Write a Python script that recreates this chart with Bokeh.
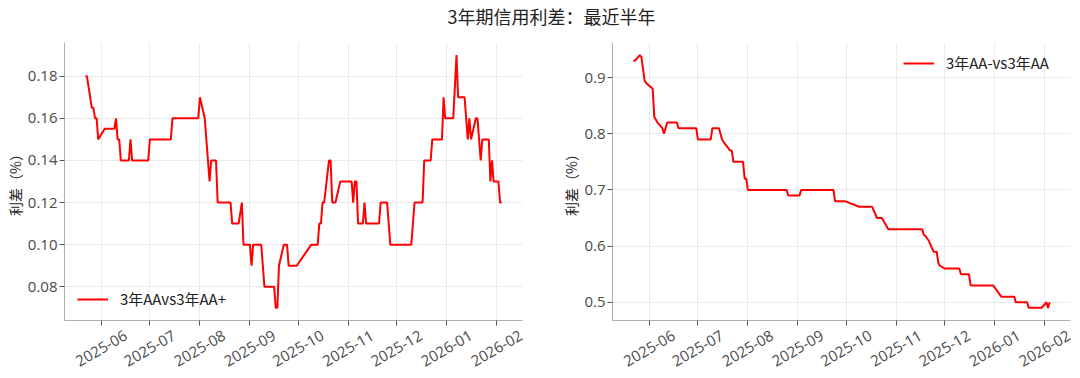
import pandas as pd
from bokeh.plotting import figure
from bokeh.models import (Range1d, FixedTicker, PrintfTickFormatter, DatetimeTickFormatter,
                          Legend, LegendItem, Label)
from bokeh.layouts import column, row
from bokeh.embed import file_html
from bokeh.resources import INLINE
import math

title_text = "3年期信用利差：最近半年"
ylabel_text = "利差（%）"
tick_months = ["2025-06", "2025-07", "2025-08", "2025-09", "2025-10",
               "2025-11", "2025-12", "2026-01", "2026-02"]

# Left: 3年AA vs 3年AA+
left_name = "3年AAvs3年AA+"
left_dates = ["2025-05-22", "2025-05-23", "2025-05-26", "2025-05-27", "2025-05-28", "2025-05-29",
              "2025-05-30", "2025-06-03", "2025-06-09", "2025-06-10", "2025-06-11", "2025-06-12",
              "2025-06-13", "2025-06-18", "2025-06-19", "2025-06-20", "2025-06-30", "2025-07-01",
              "2025-07-14", "2025-07-15", "2025-07-31", "2025-08-01", "2025-08-04", "2025-08-07",
              "2025-08-08", "2025-08-11", "2025-08-12", "2025-08-20", "2025-08-21", "2025-08-25",
              "2025-08-27", "2025-08-28", "2025-09-01", "2025-09-02", "2025-09-03", "2025-09-08",
              "2025-09-10", "2025-09-16", "2025-09-17", "2025-09-18", "2025-09-19", "2025-09-22",
              "2025-09-24", "2025-09-25", "2025-09-30", "2025-10-09", "2025-10-13", "2025-10-14",
              "2025-10-15", "2025-10-16", "2025-10-17", "2025-10-20", "2025-10-21", "2025-10-22",
              "2025-10-24", "2025-10-27", "2025-11-03", "2025-11-04", "2025-11-05", "2025-11-06",
              "2025-11-07", "2025-11-10", "2025-11-11", "2025-11-12", "2025-11-20", "2025-11-21",
              "2025-11-25", "2025-11-27", "2025-12-10", "2025-12-12", "2025-12-17", "2025-12-18",
              "2025-12-22", "2025-12-23", "2025-12-29", "2025-12-30", "2025-12-31", "2026-01-05",
              "2026-01-07", "2026-01-08", "2026-01-12", "2026-01-14", "2026-01-15", "2026-01-16",
              "2026-01-19", "2026-01-20", "2026-01-22", "2026-01-23", "2026-01-27", "2026-01-28",
              "2026-01-29", "2026-01-30", "2026-02-02", "2026-02-03", "2026-02-04"]
left_values = [0.18, 0.18, 0.165, 0.165, 0.16, 0.16,
               0.15, 0.155, 0.155, 0.16, 0.15, 0.15,
               0.14, 0.14, 0.15, 0.14, 0.14, 0.15,
               0.15, 0.16, 0.16, 0.17, 0.16, 0.13,
               0.14, 0.14, 0.12, 0.12, 0.11, 0.11,
               0.12, 0.10, 0.10, 0.09, 0.10, 0.10,
               0.08, 0.08, 0.07, 0.07, 0.09, 0.10,
               0.10, 0.09, 0.09, 0.10, 0.10, 0.11,
               0.11, 0.12, 0.12, 0.14, 0.14, 0.12,
               0.12, 0.13, 0.13, 0.12, 0.13, 0.13,
               0.11, 0.11, 0.12, 0.11, 0.11, 0.12,
               0.12, 0.10, 0.10, 0.12, 0.12, 0.14,
               0.14, 0.15, 0.15, 0.17, 0.16, 0.16,
               0.19, 0.17, 0.17, 0.15, 0.16, 0.15,
               0.16, 0.16, 0.14, 0.15, 0.15, 0.13,
               0.14, 0.13, 0.13, 0.12, 0.12]
left_yticks = [0.08, 0.10, 0.12, 0.14, 0.16, 0.18]

# Right: 3年AA- vs 3年AA
right_name = "3年AA-vs3年AA"
right_dates = ["2025-05-22", "2025-05-23", "2025-05-26", "2025-05-27", "2025-05-29", "2025-05-30",
               "2025-06-03", "2025-06-04", "2025-06-06", "2025-06-09", "2025-06-10", "2025-06-11",
               "2025-06-12", "2025-06-18", "2025-06-19", "2025-06-30", "2025-07-01", "2025-07-09",
               "2025-07-10", "2025-07-14", "2025-07-16", "2025-07-17", "2025-07-21", "2025-07-22",
               "2025-07-23", "2025-07-29", "2025-07-30", "2025-07-31", "2025-08-01", "2025-08-25",
               "2025-08-26", "2025-09-02", "2025-09-03", "2025-09-23", "2025-09-24", "2025-09-30",
               "2025-10-09", "2025-10-17", "2025-10-20", "2025-10-23", "2025-10-24", "2025-10-27",
               "2025-11-17", "2025-11-18", "2025-11-19", "2025-11-21", "2025-11-24", "2025-11-26",
               "2025-11-27", "2025-11-28", "2025-12-01", "2025-12-10", "2025-12-11", "2025-12-16",
               "2025-12-17", "2025-12-31", "2026-01-05", "2026-01-13", "2026-01-14", "2026-01-21",
               "2026-01-22", "2026-01-30", "2026-02-02", "2026-02-03", "2026-02-04"]
right_values = [0.93, 0.93, 0.94, 0.937, 0.895, 0.89,
                0.88, 0.83, 0.82, 0.81, 0.80, 0.81,
                0.82, 0.82, 0.81, 0.81, 0.79, 0.79,
                0.81, 0.81, 0.79, 0.785, 0.77, 0.77,
                0.75, 0.75, 0.72, 0.72, 0.70, 0.70,
                0.69, 0.69, 0.70, 0.70, 0.68, 0.68,
                0.67, 0.67, 0.65, 0.65, 0.645, 0.63,
                0.63, 0.62, 0.618, 0.61, 0.59, 0.59,
                0.57, 0.565, 0.56, 0.56, 0.55, 0.55,
                0.53, 0.53, 0.51, 0.51, 0.50, 0.50,
                0.49, 0.49, 0.50, 0.49, 0.50]
right_yticks = [0.5, 0.6, 0.7, 0.8, 0.9]

CJK = "Noto Sans CJK SC"
LAT = "Open Sans"
TXT = "#4a4a4a"
AX = "#b0b0b0"
GRID = "#ebebeb"

tick_ms = [pd.Timestamp(m + "-01").value / 1e6 for m in tick_months]

FIG_W, FIG_H = 540, 342
TOP, BOTTOM = 6, 58
LABEL_SHIFT_PX = 24.4   # moves right-anchored rotated labels so they sit centred on the ticks


def padded(lo, hi, frac=0.05):
    d = hi - lo
    return lo - frac * d, hi + frac * d


def make_panel(dates, values, yticks, yfmt, name, legend_loc, border_left, border_right):
    xs = pd.to_datetime(dates)
    x0, x1 = padded(xs.min(), xs.max())
    y0, y1 = padded(min(values), max(values))
    p = figure(width=FIG_W, height=FIG_H, x_axis_type="datetime",
               x_range=Range1d(x0, x1), y_range=Range1d(y0, y1),
               output_backend="svg", toolbar_location=None,
               min_border_left=border_left, min_border_right=border_right,
               min_border_top=TOP, min_border_bottom=BOTTOM)
    p.outline_line_color = None
    p.background_fill_color = "white"
    r = p.line(xs, values, line_color="#ff0000", line_width=2)

    # month ticks drawn as minor ticks, labels carried by shifted major ticks
    frame_w = FIG_W - border_left - border_right
    ms_per_px = (x1 - x0).total_seconds() * 1000 / frame_w
    label_pos = [t + LABEL_SHIFT_PX * ms_per_px for t in tick_ms]
    p.xaxis.ticker = FixedTicker(ticks=label_pos, minor_ticks=tick_ms)
    fmt = "%Y-%m"
    p.xaxis.formatter = DatetimeTickFormatter(
        milliseconds=fmt, seconds=fmt, minsec=fmt, minutes=fmt, hourmin=fmt,
        hours=fmt, days=fmt, months=fmt, years=fmt)
    p.xaxis.major_label_orientation = math.pi / 6
    p.xaxis.major_label_standoff = 9
    p.xaxis.major_tick_line_color = None
    p.xaxis.major_tick_out = 5
    p.xaxis.major_tick_in = 0
    p.xaxis.minor_tick_line_color = "#555555"
    p.xaxis.minor_tick_out = 5
    p.xaxis.minor_tick_in = 0

    p.yaxis.ticker = FixedTicker(ticks=yticks)
    p.yaxis.formatter = PrintfTickFormatter(format=yfmt)
    p.yaxis.axis_label = ylabel_text
    p.yaxis.axis_label_text_font = CJK
    p.yaxis.axis_label_text_font_size = "14px"
    p.yaxis.axis_label_text_font_style = "normal"
    p.yaxis.axis_label_text_color = "#222222"
    p.yaxis.axis_label_standoff = 0
    p.yaxis.major_label_standoff = 2
    p.yaxis.major_tick_line_color = "#555555"
    p.yaxis.major_tick_out = 5
    p.yaxis.major_tick_in = 0
    p.yaxis.minor_tick_line_color = None

    for ax in (p.xaxis, p.yaxis):
        ax.axis_line_color = AX
        ax.axis_line_width = 1
        ax.major_label_text_font = LAT
        ax.major_label_text_font_size = "15px"
        ax.major_label_text_color = TXT

    p.xgrid.ticker = FixedTicker(ticks=tick_ms)
    p.ygrid.ticker = FixedTicker(ticks=yticks)
    p.grid.grid_line_color = GRID
    p.grid.grid_line_width = 1

    legend = Legend(items=[LegendItem(label=name, renderers=[r])],
                    location=legend_loc, orientation="vertical",
                    border_line_color=None, background_fill_alpha=0,
                    padding=0, margin=0, spacing=0,
                    glyph_width=31, glyph_height=20, label_standoff=12,
                    label_text_font=CJK, label_text_font_size="15px",
                    label_text_color="#222222")
    p.add_layout(legend, "center")
    return p


p1 = make_panel(left_dates, left_values, left_yticks, "%.2f", left_name,
                (13, 11), 64, 18)
p2 = make_panel(right_dates, right_values, right_yticks, "%.1f", right_name,
                (291, 247), 72, 10)

pt = figure(width=1080, height=36, x_range=(0, 1), y_range=(0, 1),
            x_axis_location=None, y_axis_location=None,
            output_backend="svg", toolbar_location=None, min_border=0)
pt.outline_line_color = None
pt.grid.visible = False
pt.add_layout(Label(x=551, y=21, x_units="screen", y_units="screen", text=title_text,
                    text_align="center", text_baseline="middle",
                    text_font=CJK, text_font_size="18px", text_color="#222222"))

layout = column(pt, row(p1, p2, spacing=0), spacing=0)
open("out.html", "w").write(file_html(layout, INLINE))
